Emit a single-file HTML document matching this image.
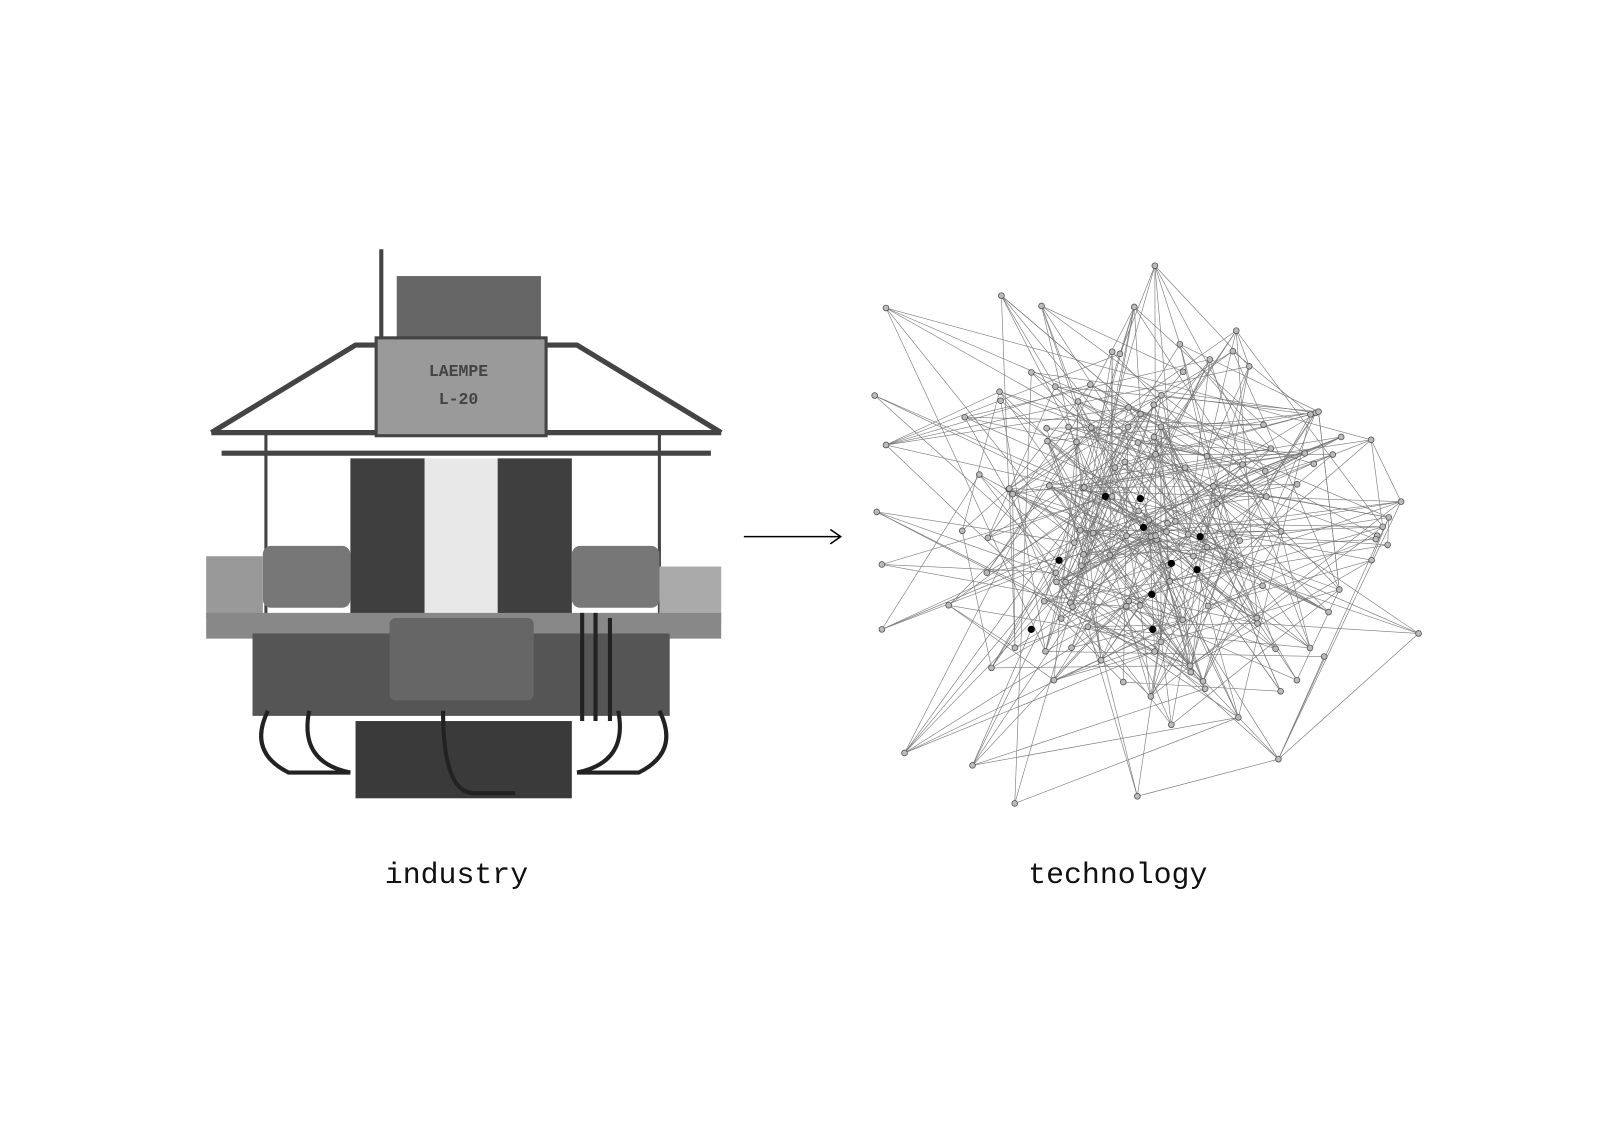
<!DOCTYPE html>
<html><head><meta charset="utf-8">
<style>
html,body{margin:0;padding:0;background:#fff;}
svg{display:block}
text{font-family:"Liberation Mono",monospace;}
</style></head>
<body>
<svg id="s" width="1600" height="1131" viewBox="0 0 1553 1098" xmlns="http://www.w3.org/2000/svg">
<rect width="1553" height="1098" fill="#fff"/>
<g stroke="#444" fill="none" stroke-width="5">
<path d="M205 420 L345 335 L395 335"/>
<path d="M700 420 L560 335 L520 335"/>
<line x1="205" y1="420" x2="700" y2="420"/>
<line x1="215" y1="440" x2="690" y2="440"/>
<line x1="370" y1="242" x2="370" y2="330" stroke-width="4"/>
<line x1="258" y1="420" x2="258" y2="600" stroke-width="3"/>
<line x1="640" y1="420" x2="640" y2="600" stroke-width="3"/>
</g>
<rect x="385" y="268" width="140" height="62" fill="#666"/>
<rect x="365" y="328" width="165" height="95" fill="#9a9a9a" stroke="#444" stroke-width="3"/>
<text x="445" y="365" font-size="16" fill="#444" text-anchor="middle" font-weight="bold">LAEMPE</text>
<text x="445" y="392" font-size="16" fill="#444" text-anchor="middle" font-weight="bold">L-20</text>
<rect x="410" y="445" width="80" height="150" fill="#e8e8e8"/>
<rect x="340" y="445" width="72" height="175" fill="#3f3f3f"/>
<rect x="483" y="445" width="72" height="175" fill="#3f3f3f"/>
<rect x="255" y="530" width="85" height="60" fill="#777" rx="8"/>
<rect x="555" y="530" width="85" height="60" fill="#777" rx="8"/>
<rect x="200" y="540" width="55" height="60" fill="#999"/>
<rect x="640" y="550" width="60" height="55" fill="#aaa"/>
<rect x="200" y="595" width="500" height="25" fill="#888"/>
<rect x="245" y="615" width="405" height="80" fill="#555"/>
<rect x="378" y="600" width="140" height="80" fill="#666" rx="6"/>
<rect x="345" y="700" width="210" height="75" fill="#3a3a3a"/>
<g stroke="#222" stroke-width="4" fill="none">
<path d="M260 690 q-20 40 20 60 l60 0"/>
<path d="M300 690 q-10 50 40 60"/>
<path d="M640 690 q20 40 -20 60 l-60 0"/>
<path d="M600 690 q10 50 -40 60"/>
<path d="M430 690 q0 80 30 80 l40 0"/>
<line x1="565" y1="595" x2="565" y2="700"/>
<line x1="578" y1="595" x2="578" y2="700"/>
<line x1="592" y1="600" x2="592" y2="700"/>
</g>
<line x1="722" y1="521" x2="815" y2="521" stroke="#000" stroke-width="1.5"/>
<path d="M806 514 L816 521 L806 528" stroke="#000" fill="none" stroke-width="1.5"/>
<g id="net"></g>
<text x="443" y="857" font-size="29" text-anchor="middle" fill="#111">industry</text>
<text x="1085" y="857" font-size="29" text-anchor="middle" fill="#111">technology</text>
</svg>
<script>
(function(){
var seed=7;function r(){seed=(seed*16807)%2147483647;return (seed-1)/2147483646;}
var N=[];
var fixed=[[1121,258],[972,287],[860,299],[1011,297],[1101,298],[1200,321],[849,384],[860,432],[851,497],[856,548],[856,611],[878,731],[985,780],[1104,773],[1347,529],[1377,615],[1331,427],[1360,487],[944,743],[1241,737]];
fixed.forEach(function(p){N.push(p)});
for(var i=0;i<130;i++){var a=r()*6.283,d=Math.pow(r(),0.7);N.push([1115+Math.cos(a)*d*235,520+Math.sin(a)*d*195]);}
var g=document.getElementById('net'),h='';
for(var i=0;i<N.length;i++){var k=2+Math.floor(r()*3);for(var j=0;j<k;j++){var t=Math.floor(r()*N.length);var dx=N[t][0]-N[i][0],dy=N[t][1]-N[i][1];if(Math.sqrt(dx*dx+dy*dy)>330&&i>=20)continue;h+='<line x1="'+N[i][0].toFixed(1)+'" y1="'+N[i][1].toFixed(1)+'" x2="'+N[t][0].toFixed(1)+'" y2="'+N[t][1].toFixed(1)+'" stroke="#777" stroke-width="0.6"/>';}}
N.forEach(function(p){h+='<circle cx="'+p[0].toFixed(1)+'" cy="'+p[1].toFixed(1)+'" r="2.8" fill="#bbb" stroke="#555" stroke-width="0.8"/>';});
[[1073,482],[1107,484],[1110,512],[1165,521],[1028,544],[1137,547],[1162,553],[1118,577],[1001,611],[1119,611]].forEach(function(p){h+='<circle cx="'+p[0]+'" cy="'+p[1]+'" r="3.5" fill="#000"/>';});
g.innerHTML=h;
})();
</script>
</body></html>
